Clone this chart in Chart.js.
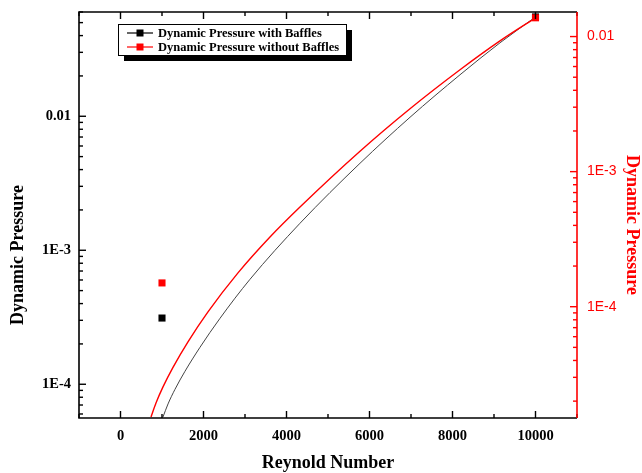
<!DOCTYPE html>
<html>
<head>
<meta charset="utf-8">
<script src="https://cdn.jsdelivr.net/npm/chart.js@4.4.0/dist/chart.umd.min.js"></script>
<style>
  body { margin: 0; background: #fff; }
  #GraphContainer { width: 642px; height: 473px; }
</style>
</head>
<body>
<div id="GraphContainer"><canvas id="myCan"></canvas></div>
<script>
// measured points (Reynold number, dynamic pressure)
var markerX = [1000, 10000];
var withBaffles = [3.12e-4, 0.0551];
var withoutBaffles = [1.5e-4, 0.01377];

// connecting curves as drawn in the original
var blackLineX = [1024, 1145, 1313, 1554, 1916, 2398, 3120, 4325, 5771, 6976, 8181, 9144, 10000];
var blackLineY = [5.7e-5, 7.13e-5, 9.17e-5, 1.25e-4, 1.888e-4, 3.107e-4, 6.07e-4, 1.59e-3, 4.458e-3, 9.83e-3, 0.0204, 0.03534, 0.0551];
var redLineX = [735, 855, 1024, 1265, 1626, 2108, 2831, 3602, 4325, 5771, 6976, 8181, 9144, 10000];
var redLineY = [1.526e-5, 1.936e-5, 2.548e-5, 3.553e-5, 5.49e-5, 9.15e-5, 1.779e-4, 3.281e-4, 5.47e-4, 1.416e-3, 2.922e-3, 5.68e-3, 9.29e-3, 0.01377];

var seriesNames = ['Dynamic Pressure with Baffles', 'Dynamic Pressure without Baffles'];
var xTitle = 'Reynold Number';
var yTitle = 'Dynamic Pressure';

var serif = "'Liberation Serif', 'Times New Roman', serif";
var red = '#ff0000';

function pts(xs, ys) {
  return xs.map(function (x, i) { return { x: x, y: ys[i] }; });
}

function logLabel(v) {
  var e = Math.round(Math.log10(v));
  if (Math.abs(Math.log10(v) - e) > 1e-6) return null;
  if (e === -2) return '0.01';
  return '1E' + e;
}

function logTicks(min, max) {
  var out = [];
  for (var e = Math.floor(Math.log10(min)); e <= Math.ceil(Math.log10(max)); e++) {
    for (var m = 1; m <= 9; m++) {
      var v = m * Math.pow(10, e);
      if (v >= min && v <= max) out.push({ v: v, major: m === 1 });
    }
  }
  return out;
}

// fixed box sizes, no automatic label padding
function fixSize(w, h) {
  return function (s) {
    if (w) s.width = w;
    if (h) s.height = h;
    s.paddingTop = 0; s.paddingBottom = 0;
    s.paddingLeft = 0; s.paddingRight = 0;
  };
}

var framePlugin = {
  id: 'frame',
  afterDatasetsDraw: function (chart) {
    var ctx = chart.ctx, a = chart.chartArea;
    var sx = chart.scales.x, sy = chart.scales.y, sy2 = chart.scales.y2;
    ctx.save();
    // frame
    ctx.lineWidth = 1.6;
    ctx.strokeStyle = '#000';
    ctx.beginPath();
    ctx.moveTo(a.right, a.top); ctx.lineTo(a.left, a.top);
    ctx.lineTo(a.left, a.bottom); ctx.lineTo(a.right, a.bottom);
    ctx.stroke();
    // x ticks bottom and top
    ctx.lineWidth = 1.4;
    for (var x = -1000; x <= 11000; x += 1000) {
      var px = sx.getPixelForValue(x);
      var len = (x % 2000 === 0) ? 7 : 4;
      ctx.beginPath();
      ctx.moveTo(px, a.bottom); ctx.lineTo(px, a.bottom - len);
      ctx.moveTo(px, a.top); ctx.lineTo(px, a.top + len);
      ctx.stroke();
    }
    // left ticks
    logTicks(sy.min, sy.max).forEach(function (t) {
      var py = sy.getPixelForValue(t.v);
      ctx.beginPath();
      ctx.moveTo(a.left, py); ctx.lineTo(a.left + (t.major ? 7 : 4), py);
      ctx.stroke();
    });
    // right axis, red
    ctx.strokeStyle = red;
    ctx.lineWidth = 1.6;
    ctx.beginPath();
    ctx.moveTo(a.right, a.top); ctx.lineTo(a.right, a.bottom);
    ctx.stroke();
    ctx.lineWidth = 1.4;
    logTicks(sy2.min, sy2.max).forEach(function (t) {
      var py = sy2.getPixelForValue(t.v);
      ctx.beginPath();
      ctx.moveTo(a.right, py); ctx.lineTo(a.right - (t.major ? 7 : 4), py);
      ctx.stroke();
    });

    // axis titles
    ctx.font = 'bold 18px ' + serif;
    ctx.fillStyle = '#000';
    ctx.textAlign = 'center';
    ctx.textBaseline = 'middle';
    ctx.fillText(xTitle, (a.left + a.right) / 2, 463);
    ctx.save();
    ctx.translate(18, 255);
    ctx.rotate(-Math.PI / 2);
    ctx.fillText(yTitle, 0, 0);
    ctx.restore();
    ctx.save();
    ctx.fillStyle = red;
    ctx.translate(632, 225);
    ctx.rotate(Math.PI / 2);
    ctx.fillText(yTitle, 0, 0);
    ctx.restore();

    // legend box with shadow
    var lx = 118, ly = 24, lw = 228, lh = 31;
    ctx.fillStyle = '#000';
    ctx.fillRect(lx + 6, ly + 6, lw, lh);
    ctx.fillStyle = '#fff';
    ctx.fillRect(lx, ly, lw, lh);
    ctx.strokeStyle = '#000';
    ctx.lineWidth = 1;
    ctx.strokeRect(lx + 0.5, ly + 0.5, lw, lh);
    var cols = ['#000', red];
    ctx.font = 'bold 12.5px ' + serif;
    ctx.textAlign = 'left';
    for (var i = 0; i < 2; i++) {
      var yy = ly + 9 + i * 14;
      ctx.strokeStyle = cols[i];
      ctx.lineWidth = 1.2;
      ctx.beginPath();
      ctx.moveTo(127, yy); ctx.lineTo(153, yy);
      ctx.stroke();
      ctx.fillStyle = cols[i];
      ctx.fillRect(136.5, yy - 3.5, 7, 7);
      ctx.fillStyle = '#000';
      ctx.fillText(seriesNames[i], 158, yy + 0.5);
    }
    ctx.restore();
  }
};

var tickFont = { family: serif, size: 14.5, weight: 'bold' };

var iniChartConfig = {
  type: 'scatter',
  data: {
    datasets: [
      {
        label: seriesNames[1] + ' pts',
        data: pts(markerX, withoutBaffles),
        yAxisID: 'y2',
        pointStyle: 'rect',
        pointRadius: 5,
        backgroundColor: red,
        borderColor: red,
        borderWidth: 0,
        showLine: false,
        order: 0
      },
      {
        label: seriesNames[0] + ' pts',
        data: pts(markerX, withBaffles),
        yAxisID: 'y',
        pointStyle: 'rect',
        pointRadius: 5,
        backgroundColor: '#000',
        borderColor: '#000',
        borderWidth: 0,
        showLine: false,
        order: 1
      },
      {
        label: seriesNames[1],
        data: pts(redLineX, redLineY),
        yAxisID: 'y2',
        showLine: true,
        pointRadius: 0,
        borderColor: red,
        borderWidth: 1.4,
        cubicInterpolationMode: 'monotone',
        order: 2
      },
      {
        label: seriesNames[0],
        data: pts(blackLineX, blackLineY),
        yAxisID: 'y',
        showLine: true,
        pointRadius: 0,
        borderColor: '#444',
        borderWidth: 1,
        cubicInterpolationMode: 'monotone',
        order: 3
      }
    ]
  },
  options: {
    responsive: true,
    maintainAspectRatio: false,
    animation: false,
    layout: { padding: { top: 12, left: 0, right: 0, bottom: 0 } },
    plugins: { legend: { display: false }, tooltip: { enabled: false } },
    scales: {
      x: {
        type: 'linear',
        position: 'bottom',
        min: -1000,
        max: 11000,
        afterFit: fixSize(0, 55),
        grid: { display: false, drawTicks: false },
        border: { display: false },
        ticks: {
          stepSize: 1000,
          autoSkip: false,
          maxRotation: 0,
          padding: 10,
          color: '#000',
          font: tickFont,
          callback: function (v) { return v % 2000 === 0 ? String(v) : null; }
        }
      },
      y: {
        type: 'logarithmic',
        position: 'left',
        min: 5.6e-5,
        max: 0.06,
        afterFit: fixSize(79, 0),
        grid: { display: false, drawTicks: false },
        border: { display: false },
        ticks: { autoSkip: false, padding: 8, color: '#000', font: tickFont, callback: logLabel }
      },
      y2: {
        type: 'logarithmic',
        position: 'right',
        min: 1.5e-5,
        max: 0.0152,
        afterFit: fixSize(65, 0),
        grid: { display: false, drawTicks: false },
        border: { display: false },
        ticks: {
          autoSkip: false, padding: 10, color: red,
          font: { family: "'Liberation Sans', Arial, sans-serif", size: 14 },
          callback: logLabel
        }
      }
    }
  },
  plugins: [framePlugin]
};

var ctxx = document.getElementById('myCan').getContext('2d');
var xChart = new Chart(ctxx, iniChartConfig);
</script>
</body>
</html>
